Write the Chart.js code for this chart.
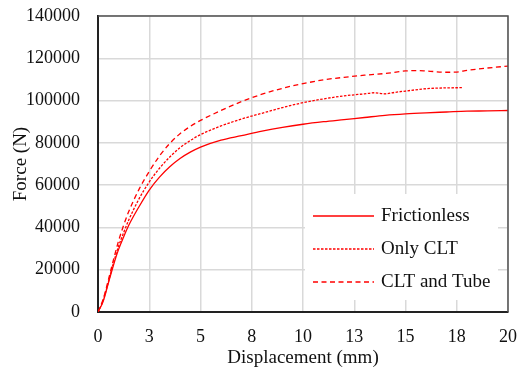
<!DOCTYPE html>
<html>
<head>
<meta charset="utf-8">
<script src="https://cdn.jsdelivr.net/npm/chart.js@4.4.1/dist/chart.umd.min.js"></script>
<style>
  html, body { margin: 0; padding: 0; background: #fff; }
  #wrap { width: 523px; height: 372px; }
</style>
</head>
<body>
<div id="wrap"><canvas id="forceChart" width="523" height="372"></canvas></div>
<script>
// force-displacement curves
const seriesNames = ['Frictionless', 'Only CLT', 'CLT and Tube'];

const dispFrictionless = [0, 0.25, 0.5, 0.75, 1, 1.25, 1.5, 2, 2.5, 3, 3.5, 4, 4.5, 5, 6, 7, 8, 9, 10, 11, 12, 13, 14, 15, 16, 17, 18, 19, 20];
const forceFrictionless = [0, 5000, 13500, 22000, 29500, 35500, 41000, 49800, 57700, 63800, 68700, 72600, 75600, 78000, 81300, 83400, 85500, 87300, 88800, 90000, 91000, 92000, 93000, 93700, 94200, 94600, 95000, 95100, 95300];

const dispOnlyClt = [0, 0.25, 0.5, 0.75, 1, 1.25, 1.5, 2, 2.5, 3, 3.5, 4, 4.5, 5, 6, 7, 8, 9, 10, 11, 12, 13, 13.5, 14, 14.5, 15, 16, 17, 17.8];
const forceOnlyClt = [0, 5500, 14000, 23000, 31000, 37500, 43500, 53500, 61500, 68000, 73300, 77700, 81100, 83900, 88000, 91300, 94000, 96700, 99000, 100800, 102200, 103200, 103700, 103200, 103900, 104500, 105600, 106000, 106100];

const dispCltTube = [0, 0.25, 0.5, 0.75, 1, 1.25, 1.5, 2, 2.5, 3, 3.5, 4, 4.5, 5, 6, 7, 8, 9, 10, 11, 12, 13, 14, 15, 15.5, 16, 17, 17.5, 18, 19, 20];
const forceCltTube = [0, 6000, 15000, 24500, 33500, 41000, 47500, 58000, 66500, 73800, 79700, 84300, 87800, 90600, 95300, 99500, 103000, 105800, 108000, 109800, 111000, 112000, 112800, 114000, 114200, 114000, 113400, 113500, 114300, 115400, 116300];

const xMin = 0, xMax = 20, xStep = 2.5;
const yMin = 0, yMax = 140000, yStep = 20000;

function toPoints(xs, ys) {
    return xs.map((x, i) => ({ x: x, y: ys[i] }));
}

const serif = '"Liberation Serif", "Times New Roman", serif';

const insideLegend = {
    id: 'insideLegend',
    beforeDatasetsDraw(chart) {
        const { ctx, chartArea } = chart;
        const left = chartArea.left + 207;
        const top = chartArea.top + 178;
        ctx.save();
        ctx.fillStyle = '#fff';
        ctx.fillRect(left, top, 193, 106);
        ctx.font = '19px ' + serif;
        ctx.textBaseline = 'middle';
        chart.data.datasets.forEach((ds, i) => {
            const y = top + 22 + i * 33;
            ctx.strokeStyle = ds.borderColor;
            ctx.lineWidth = ds.borderWidth;
            ctx.setLineDash(ds.borderDash || []);
            ctx.beginPath();
            ctx.moveTo(left + 8, y);
            ctx.lineTo(left + 69, y);
            ctx.stroke();
            ctx.fillStyle = '#111';
            ctx.fillText(ds.label, left + 76, y);
        });
        ctx.restore();
    },
    afterDatasetsDraw(chart) {
        const { ctx, chartArea } = chart;
        ctx.save();
        ctx.strokeStyle = '#505050';
        ctx.lineWidth = 1.5;
        ctx.beginPath();
        ctx.moveTo(chartArea.left, chartArea.top);
        ctx.lineTo(chartArea.right, chartArea.top);
        ctx.lineTo(chartArea.right, chartArea.bottom);
        ctx.stroke();
        ctx.restore();
    }
};

new Chart(document.getElementById('forceChart'), {
    type: 'line',
    data: {
        datasets: [{
            label: seriesNames[0],
            data: toPoints(dispFrictionless, forceFrictionless),
            borderColor: 'rgb(255, 0, 0)',
            borderWidth: 1.3,
            borderDash: [],
            pointRadius: 0,
            cubicInterpolationMode: 'monotone'
        }, {
            label: seriesNames[1],
            data: toPoints(dispOnlyClt, forceOnlyClt),
            borderColor: 'rgb(255, 0, 0)',
            borderWidth: 1.3,
            borderDash: [2.5, 1.5],
            pointRadius: 0,
            cubicInterpolationMode: 'monotone'
        }, {
            label: seriesNames[2],
            data: toPoints(dispCltTube, forceCltTube),
            borderColor: 'rgb(255, 0, 0)',
            borderWidth: 1.3,
            borderDash: [5, 3.5],
            pointRadius: 0,
            cubicInterpolationMode: 'monotone'
        }]
    },
    options: {
        responsive: false,
        animation: false,
        devicePixelRatio: 1,
        layout: { padding: { top: 16, right: 15, left: 0, bottom: 0 } },
        plugins: {
            legend: { display: false },
            tooltip: { enabled: false }
        },
        scales: {
            x: {
                type: 'linear',
                min: xMin,
                max: xMax,
                afterFit: (scale) => { scale.height = 60; },
                grid: { color: '#d9d9d9', lineWidth: 1.5, tickLength: 14, tickColor: 'rgba(0,0,0,0)' },
                border: { color: '#222', width: 2 },
                ticks: {
                    stepSize: xStep,
                    padding: 0,
                    color: '#111',
                    font: { family: serif, size: 18 },
                    maxRotation: 0,
                    callback: (v) => String(Math.round(v))
                },
                title: {
                    display: true,
                    text: 'Displacement (mm)',
                    color: '#111',
                    font: { family: serif, size: 19 },
                    padding: { top: 0, bottom: 3 }
                }
            },
            y: {
                min: yMin,
                max: yMax,
                afterFit: (scale) => { scale.width = 98; },
                grid: { color: '#d9d9d9', lineWidth: 1.5, tickLength: 18, tickColor: 'rgba(0,0,0,0)' },
                border: { color: '#222', width: 2 },
                ticks: {
                    stepSize: yStep,
                    padding: 0,
                    color: '#111',
                    font: { family: serif, size: 18 },
                    callback: (v) => String(v)
                },
                title: {
                    display: true,
                    text: 'Force (N)',
                    color: '#111',
                    font: { family: serif, size: 19 },
                    padding: { top: 10, bottom: 0 }
                }
            }
        }
    },
    plugins: [insideLegend]
});
</script>
</body>
</html>
